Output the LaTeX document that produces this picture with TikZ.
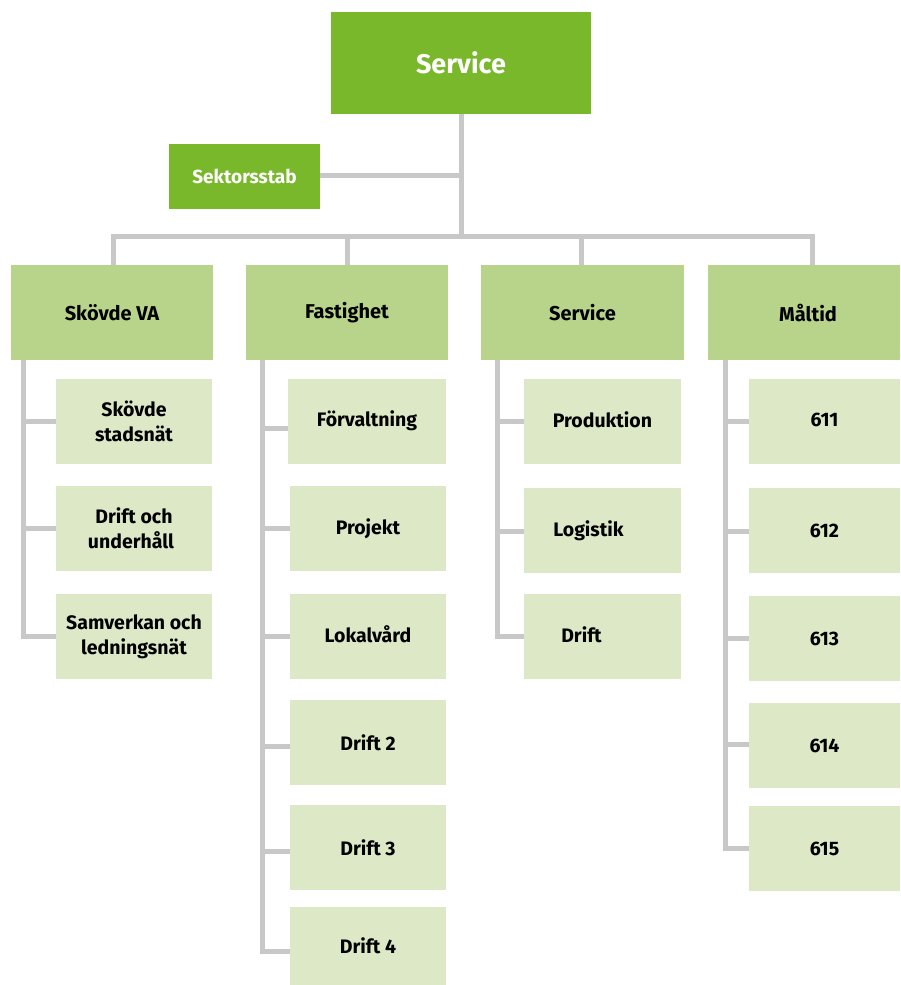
\documentclass[tikz,border=0pt]{standalone}
\usepackage{fontspec}
\setmainfont{Fira Sans}
\definecolor{topg}{HTML}{78B82A}
\definecolor{midg}{HTML}{B8D48A}
\definecolor{lowg}{HTML}{DDE9C6}
\definecolor{linec}{HTML}{C8C8C8}
\tikzset{
  base/.style={anchor=north west, inner sep=0pt, outer sep=0pt, align=center, font=\bfseries},
  topbox/.style={base, fill=topg, text=white, font=\bfseries\fontsize{27}{31}\selectfont},
  sekbox/.style={base, fill=topg, text=white, font=\bfseries\fontsize{19}{22}\selectfont},
  midbox/.style={base, fill=midg, text=black, minimum height=95pt, font=\bfseries\fontsize{20}{24}\selectfont},
  lowbox/.style={base, fill=lowg, text=black, minimum height=85pt, font=\bfseries\fontsize{19.5}{25}\selectfont},
  conn/.style={draw=linec, line width=5pt, line join=miter},
}
\begin{document}
\begin{tikzpicture}[x=1pt,y=-1pt]
\useasboundingbox (0,0) rectangle (900,985);
% connector coordinates
\coordinate (j) at (461,236.5);
\coordinate (p1) at (113,236.5);
\coordinate (p2) at (347,236.5);
\coordinate (p3) at (581,236.5);
\coordinate (p4) at (812,236.5);
\coordinate (va) at (23,360);
\coordinate (vb) at (262,360);
\coordinate (vc) at (497,360);
\coordinate (vd) at (725,360);
% top
\node[topbox, minimum width=260pt, minimum height=102pt] (top) at (331,12) {Service};
\node[sekbox, minimum width=151pt, minimum height=65pt] (sek) at (169,144) {Sektorsstab};
% level 2
\node[midbox, minimum width=202pt] (skva) at (11,265) {Skövde VA};
\node[midbox, minimum width=202pt] (fast) at (246,265) {Fastighet};
\node[midbox, minimum width=203pt] (serv) at (481,265) {Service};
\node[midbox, minimum width=192pt] (malt) at (708,265) {\hspace*{8pt}Måltid};
% Skövde VA children
\node[lowbox, minimum width=156pt] (a1) at (56,379) {Skövde\\stadsnät};
\node[lowbox, minimum width=156pt] (a2) at (56,486) {Drift och\\underhåll\hspace*{6pt}};
\node[lowbox, minimum width=156pt] (a3) at (56,594) {Samverkan och\\ledningsnät};
% Fastighet children
\node[lowbox, minimum width=158pt] (b1) at (288,379) {\raisebox{6pt}{Förvaltning}};
\node[lowbox, minimum width=156pt] (b2) at (290,486) {Projekt};
\node[lowbox, minimum width=156pt] (b3) at (290,594) {\raisebox{4pt}{Lokalvård}};
\node[lowbox, minimum width=156pt] (b4) at (290,700) {Drift 2};
\node[lowbox, minimum width=156pt] (b5) at (290,805) {Drift 3};
\node[lowbox, minimum width=156pt, minimum height=78pt] (b6) at (290,907) {Drift 4};
% Service children
\node[lowbox, minimum width=157pt] (c1) at (524,379) {\raisebox{4pt}{Produktion}};
\node[lowbox, minimum width=157pt] (c2) at (524,488) {Logistik\hspace*{28pt}};
\node[lowbox, minimum width=157pt] (c3) at (524,594) {\raisebox{4pt}{Drift}\hspace*{42pt}};
% Måltid children
\node[lowbox, minimum width=151pt] (d1) at (749,379) {\raisebox{4pt}{611}};
\node[lowbox, minimum width=151pt] (d2) at (749,488) {612};
\node[lowbox, minimum width=151pt] (d3) at (749,596) {613};
\node[lowbox, minimum width=151pt] (d4) at (749,703) {614};
\node[lowbox, minimum width=151pt] (d5) at (749,806) {615};
% main connectors
\draw[conn] (top.south -| j) -- (j);
\draw[conn] (sek.east |- 0,175.5) -- (j |- 0,175.5);
\draw[conn] ([xshift=-2.5pt]p1) -- ([xshift=2.5pt]p4);
\draw[conn] (p1) -- (p1 |- skva.north);
\draw[conn] (p2) -- (p2 |- fast.north);
\draw[conn] (p3) -- (p3 |- serv.north);
\draw[conn] (p4) -- (p4 |- malt.north);
% Skövde VA branch
\draw[conn] (va) |- (a3.west);
\draw[conn] (va |- a1.west) -- (a1.west);
\draw[conn] (va |- a2.west) -- (a2.west);
% Fastighet branch
\draw[conn] (vb) |- ([yshift=-5pt]b6.west);
\draw[conn] (vb |- 0,428) -- (b1.west |- 0,428);
\draw[conn] (vb |- b2.west) -- (b2.west);
\draw[conn] (vb |- b3.west) -- (b3.west);
\draw[conn] (vb |- 0,746) -- (b4.west |- 0,746);
\draw[conn] (vb |- 0,851) -- (b5.west |- 0,851);
% Service branch
\draw[conn] (vc) |- (c3.west);
\draw[conn] (vc |- c1.west) -- (c1.west);
\draw[conn] (vc |- 0,531) -- (c2.west |- 0,531);
% Måltid branch
\draw[conn] (vd) |- (d5.west);
\draw[conn] (vd |- d1.west) -- (d1.west);
\draw[conn] (vd |- 0,531) -- (d2.west |- 0,531);
\draw[conn] (vd |- d3.west) -- (d3.west);
\draw[conn] (vd |- 0,744) -- (d4.west |- 0,744);
\end{tikzpicture}
\end{document}
